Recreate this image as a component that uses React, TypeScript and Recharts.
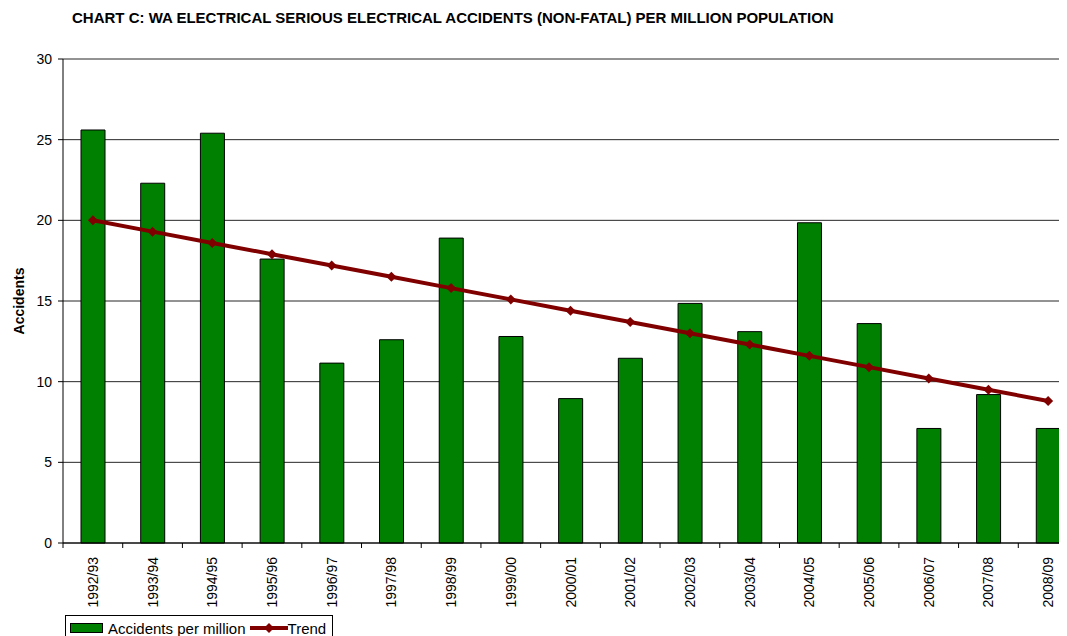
import React from 'react';
import { ComposedChart, Bar, Line, XAxis, YAxis, CartesianGrid, Legend } from 'recharts';

const years = [
  '1992/93', '1993/94', '1994/95', '1995/96', '1996/97', '1997/98', '1998/99', '1999/00', '2000/01',
  '2001/02', '2002/03', '2003/04', '2004/05', '2005/06', '2006/07', '2007/08', '2008/09',
];
const accidentsPerMillion = [25.6, 22.3, 25.4, 17.6, 11.15, 12.6, 18.9, 12.8, 8.95, 11.45, 14.85, 13.1, 19.85, 13.6, 7.1, 9.2, 7.1];
const trend = [20.0, 19.3, 18.6, 17.9, 17.2, 16.5, 15.8, 15.1, 14.4, 13.7, 13.0, 12.3, 11.6, 10.9, 10.2, 9.5, 8.8];
const yTicks = [0, 5, 10, 15, 20, 25, 30];

const data = years.map((year, i) => ({ year, accidents: accidentsPerMillion[i], trend: trend[i] }));

const FONT = '"Liberation Sans", Arial, sans-serif';
const BAR_GREEN = '#008000';
const TREND_RED = '#800000';

const Diamond = ({ cx, cy, r = 5 }: { cx: number; cy: number; r?: number }) => (
  <polygon points={`${cx},${cy - r} ${cx + r},${cy} ${cx},${cy + r} ${cx - r},${cy}`} fill={TREND_RED} />
);

// category labels run bottom-to-top; tick marks sit between categories
const YearTick = (props: any) => {
  const { x, y, payload, width } = props;
  const band = width / years.length;
  const lx = x + 5;
  const ly = y + 14;
  return (
    <g>
      <line x1={x - band / 2} y1={y} x2={x - band / 2} y2={y + 5} stroke="#000" />
      <text x={lx} y={ly} transform={`rotate(-90 ${lx} ${ly})`} textAnchor="end" fontSize={14} fontFamily={FONT} fill="#000">
        {payload.value}
      </text>
    </g>
  );
};

const LegendBox = () => (
  <div
    style={{
      boxSizing: 'border-box', height: 26, border: '1px solid #000', background: '#fff',
      display: 'inline-flex', alignItems: 'center', padding: '0 6px 0 4px', fontFamily: FONT, fontSize: 15, color: '#000',
    }}
  >
    <svg width={34} height={12} style={{ marginRight: 4 }}>
      <rect x={0.5} y={1.5} width={32} height={9} fill={BAR_GREEN} stroke="#000" />
    </svg>
    <span style={{ marginRight: 4 }}>Accidents per million</span>
    <svg width={38} height={12}>
      <line x1={0} y1={6} x2={38} y2={6} stroke={TREND_RED} strokeWidth={4} />
      <Diamond cx={19} cy={6} />
    </svg>
    <span>Trend</span>
  </div>
);

export default function App() {
  return (
    <ComposedChart
      width={1075}
      height={628}
      data={data}
      margin={{ top: 51, right: 5, left: 0, bottom: 0 }}
      barSize={24}
      style={{ fontFamily: FONT }}
    >
      <text x={64} y={15} fontSize={15} fontWeight="bold" fontFamily={FONT} fill="#000">
        CHART C: WA ELECTRICAL SERIOUS ELECTRICAL ACCIDENTS (NON-FATAL) PER MILLION POPULATION
      </text>
      <CartesianGrid vertical={false} stroke="#000" strokeOpacity={0.85} />
      <XAxis
        dataKey="year"
        height={67}
        interval={0}
        tickLine={false}
        tickSize={0}
        tickMargin={0}
        axisLine={{ stroke: '#000' }}
        tick={<YearTick />}
      />
      <YAxis
        domain={[0, 30]}
        ticks={yTicks}
        width={55}
        tickSize={5}
        tickMargin={6}
        axisLine={{ stroke: '#000' }}
        tickLine={{ stroke: '#000' }}
        tick={{ fontSize: 14, fill: '#000', fontFamily: FONT }}
        label={{
          content: (p: any) => {
            const vb = p.viewBox;
            const lx = 16;
            const ly = vb.y + vb.height / 2;
            return (
              <text x={lx} y={ly} transform={`rotate(-90 ${lx} ${ly})`} textAnchor="middle" fontSize={14} fontWeight="bold" fontFamily={FONT} fill="#000">
                Accidents
              </text>
            );
          },
        }}
      />
      <Legend
        verticalAlign="bottom"
        height={26}
        content={<LegendBox />}
        wrapperStyle={{ left: 57, top: 607, bottom: 'auto', width: 'auto' }}
      />
      <Bar dataKey="accidents" name="Accidents per million" fill={BAR_GREEN} stroke="#000" strokeWidth={1} isAnimationActive={false} />
      <Line
        dataKey="trend"
        name="Trend"
        stroke={TREND_RED}
        strokeWidth={4}
        dot={(p: any) => <Diamond key={p.index} cx={p.cx} cy={p.cy} />}
        activeDot={false}
        isAnimationActive={false}
      />
    </ComposedChart>
  );
}
